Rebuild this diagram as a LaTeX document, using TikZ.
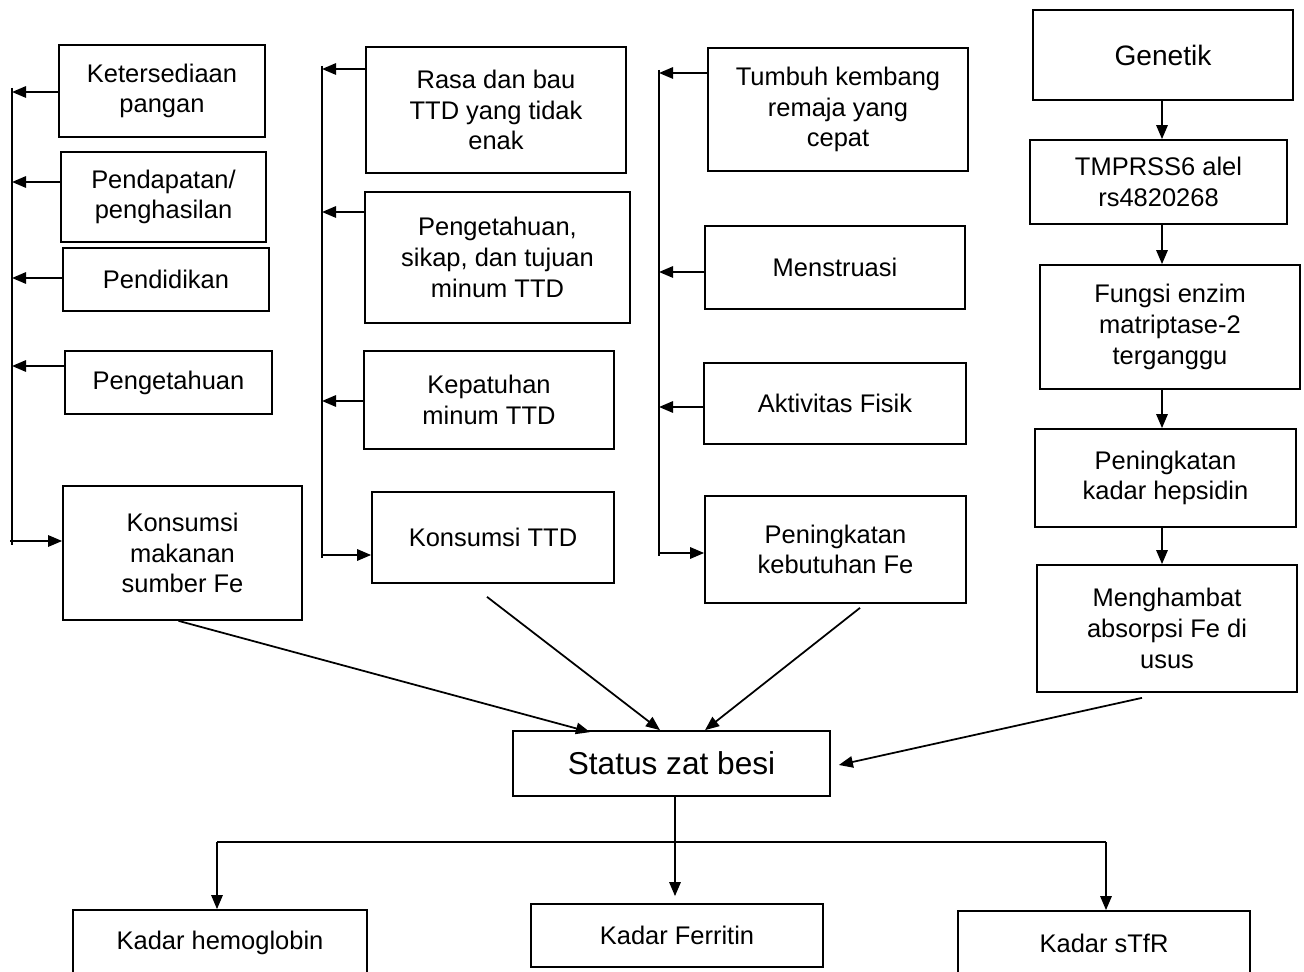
\documentclass[tikz,border=0pt]{standalone}
\usepackage{fontspec}
\setmainfont{Liberation Sans}
\usetikzlibrary{arrows.meta,calc}

\tikzset{
	box/.style={draw, line width=1pt, align=center, inner sep=2pt,
		font=\fontsize{14.5}{17.5}\selectfont},
	arr/.style={line width=1pt, -{Triangle[length=8pt,width=6.5pt]}},
	ln/.style={line width=1pt},
}

\begin{document}
\begin{tikzpicture}[x=0.02cm, y=-0.02cm]
	\useasboundingbox (0,0) rectangle (1304,972);
	\clip (0,0) rectangle (1304,972);

	% first column
	\node[box, minimum width=4.12cm, minimum height=1.84cm] (ket) at (162,91) {Ketersediaan\\pangan};
	\node[box, minimum width=4.10cm, minimum height=1.80cm] (pend) at (163.5,197) {Pendapatan/\\penghasilan};
	\node[box, minimum width=4.12cm, minimum height=1.26cm] (didik) at (166,279.5) {Pendidikan};
	\node[box, minimum width=4.14cm, minimum height=1.26cm] (tahu) at (168.5,382.5) {Pengetahuan};
	\node[box, minimum width=4.78cm, minimum height=2.68cm] (kmsFe) at (182.5,553) {Konsumsi\\makanan\\sumber Fe};

	% second column
	\node[box, minimum width=5.20cm, minimum height=2.52cm] (rasa) at (496,110) {Rasa dan bau\\TTD yang tidak\\enak};
	\node[box, minimum width=5.30cm, minimum height=2.62cm] (sikap) at (497.5,257.5) {Pengetahuan,\\sikap, dan tujuan\\minum TTD};
	\node[box, minimum width=5.00cm, minimum height=1.96cm] (patuh) at (489,400) {Kepatuhan\\minum TTD};
	\node[box, minimum width=4.84cm, minimum height=1.82cm] (kmsTTD) at (493,537.5) {Konsumsi TTD};

	% third column
	\node[box, minimum width=5.20cm, minimum height=2.46cm] (tumbuh) at (838,109.5) {Tumbuh kembang\\remaja yang\\cepat};
	\node[box, minimum width=5.20cm, minimum height=1.66cm] (mens) at (835,267.5) {Menstruasi};
	\node[box, minimum width=5.24cm, minimum height=1.62cm] (aktif) at (835,403.5) {Aktivitas Fisik};
	\node[box, minimum width=5.22cm, minimum height=2.14cm] (butuh) at (835.5,549.5) {Peningkatan\\kebutuhan Fe};

	% genetic chain
	\node[box, minimum width=5.20cm, minimum height=1.80cm, font=\fontsize{16}{19}\selectfont] (gen) at (1163,55) {Genetik};
	\node[box, minimum width=5.14cm, minimum height=1.68cm] (tmp) at (1158.5,182) {TMPRSS6 alel\\rs4820268};
	\node[box, minimum width=5.20cm, minimum height=2.48cm] (enzim) at (1170,327) {Fungsi enzim\\matriptase-2\\terganggu};
	\node[box, minimum width=5.22cm, minimum height=1.96cm] (hep) at (1165.5,478) {Peningkatan\\kadar hepsidin};
	\node[box, minimum width=5.20cm, minimum height=2.54cm] (hambat) at (1167,628.5) {Menghambat\\absorpsi Fe di\\usus};

	% status and indicators
	\node[box, minimum width=6.34cm, minimum height=1.30cm, font=\fontsize{18}{21}\selectfont] (status) at (671.5,763.5) {Status zat besi};
	\node[box, minimum width=5.88cm, minimum height=1.30cm] (hb) at (220,942.5) {Kadar hemoglobin};
	\node[box, minimum width=5.84cm, minimum height=1.26cm] (fer) at (677,935.5) {Kadar Ferritin};
	\node[box, minimum width=5.84cm, minimum height=1.28cm] (stfr) at (1104,943) {Kadar sTfR};

	% spines
	\foreach \sx/\ya/\yb in {12/88/545, 322/66/558, 659/70/556}
		\draw[ln] (\sx,\ya) -- (\sx,\yb);

	\foreach \sx/\src/\yy in {12/ket/92, 12/pend/182, 12/didik/278, 12/tahu/366,
		322/rasa/69, 322/sikap/212, 322/patuh/401,
		659/tumbuh/73, 659/mens/272, 659/aktif/407}{
		\coordinate (sp) at (\sx,\yy);
		\draw[arr] (\src.west |- sp) -- (sp);
	}

	\foreach \sx/\dst/\yy in {10/kmsFe/541, 322/kmsTTD/555, 659/butuh/553}{
		\coordinate (sp) at (\sx,\yy);
		\draw[arr] (sp) -- (\dst.west |- sp);
	}

	\coordinate (gx) at (1162,0);
	\foreach \a/\b in {gen/tmp, tmp/enzim, enzim/hep, hep/hambat}
		\draw[arr] (gx |- \a.south) -- (gx |- \b.north);

	% into the status
	\draw[arr] ($(kmsFe.south)+(-4,0)$) -- ($(status.north)+(-81.5,2)$);
	\draw[arr] ($(kmsTTD.south)+(-6,13)$) -- ($(status.north)+(-11.5,0)$);
	\draw[arr] ($(butuh.south)+(24.5,4)$) -- ($(status.north)+(33.5,0)$);
	\draw[arr] ($(hambat.south)+(-25,5)$) -- ($(status.east)+(8,1.5)$);

	% out of the status
	\coordinate (bl) at (217,842);
	\coordinate (br) at (1106,842);
	\draw[ln] (bl) -- (br);
	\draw[arr] ($(status.south)+(3.5,0)$) -- ($(status.south |- fer.north)+(3.5,-7)$);
	\draw[arr] (bl) -- (bl |- hb.north);
	\draw[arr] (br) -- (br |- stfr.north);
\end{tikzpicture}
\end{document}
